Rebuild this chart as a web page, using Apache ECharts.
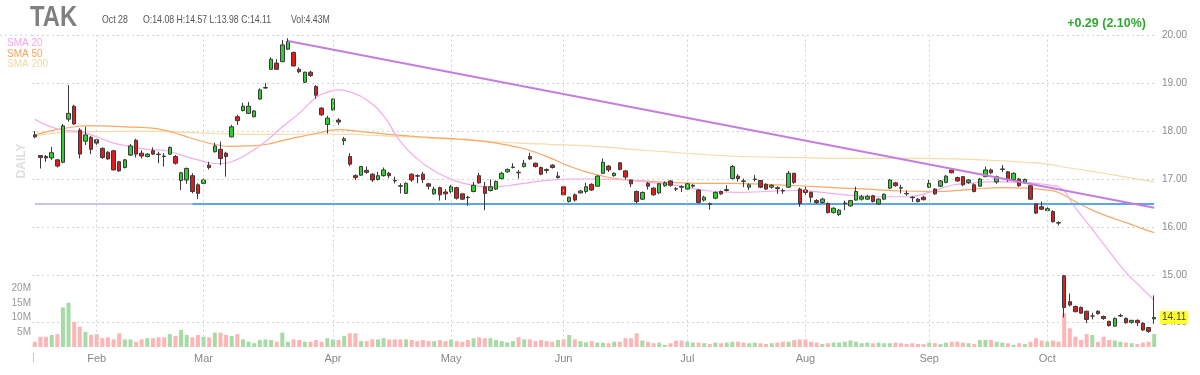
<!DOCTYPE html>
<html><head><meta charset="utf-8">
<script src="https://cdn.jsdelivr.net/npm/echarts/dist/echarts.min.js"></script>
<style>html,body{margin:0;padding:0;background:#fff}#c{width:1200px;height:375px}</style>
</head><body><div id="c"></div><script>
// ---- categories: trading days shown (2021) ----
const year = 2021;
const monthNames = ['Jan','Feb','Mar','Apr','May','Jun','Jul','Aug','Sep','Oct','Nov','Dec'];
const tradingDays = [
 [14,15,19,20,21,22,25,26,27,28,29],
 [1,2,3,4,5,8,9,10,11,12,16,17,18,19,22,23,24,25,26],
 [1,2,3,4,5,8,9,10,11,12,15,16,17,18,19,22,23,24,25,26,29,30,31],
 [1,5,6,7,8,9,12,13,14,15,16,19,20,21,22,23,26,27,28,29,30],
 [3,4,5,6,7,10,11,12,13,14,17,18,19,20,21,24,25,26,27,28],
 [1,2,3,4,7,8,9,10,11,14,15,16,17,18,21,22,23,24,25,28,29,30],
 [1,2,6,7,8,9,12,13,14,15,16,19,20,21,22,23,26,27,28,29,30],
 [2,3,4,5,6,9,10,11,12,13,16,17,18,19,20,23,24,25,26,27,30,31],
 [1,2,3,7,8,9,10,13,14,15,16,17,20,21,22,23,24,27,28,29,30],
 [1,4,5,6,7,8,11,12,13,14,15,18,19,20,21,22,25,26,27,28]
];

// ---- OHLC ----
const opens = [
17.92,17.49,17.47,17.44,17.40,17.35,18.25,18.52,18.02,17.79,
17.87,17.82,17.64,17.56,17.59,17.36,17.24,17.50,17.81,17.54,
17.47,17.59,17.52,17.48,17.52,17.47,16.97,16.98,17.07,16.88,
16.91,17.29,17.57,17.62,17.54,17.88,18.30,18.43,18.37,18.30,
18.67,18.90,19.29,19.42,19.45,19.71,19.64,19.29,19.02,19.23,
18.93,18.48,18.14,18.44,18.23,17.80,17.47,17.07,17.08,17.18,
17.10,16.99,17.07,17.12,16.97,16.86,16.70,17.10,17.07,17.10,
16.90,16.69,16.82,16.73,16.74,16.82,16.69,16.62,16.74,17.07,
16.84,16.76,16.79,17.01,17.15,17.24,17.14,17.26,17.47,17.33,
17.24,17.20,17.29,17.03,16.84,16.53,16.67,16.71,16.74,16.89,
16.85,17.12,17.27,17.07,17.34,17.17,16.98,16.74,16.58,16.91,
16.81,16.71,16.86,16.96,16.80,16.84,16.79,16.85,16.77,16.56,
16.48,16.60,16.74,16.76,17.01,17.06,16.96,16.83,16.99,16.97,
16.89,16.83,16.82,16.76,16.83,17.12,16.79,16.77,16.72,16.55,
16.51,16.49,16.30,16.26,16.49,16.44,16.56,16.58,16.58,16.65,
16.48,16.58,16.81,16.92,16.82,16.70,16.62,16.58,16.62,16.83,
16.79,16.85,16.93,17.19,17.03,17.05,16.93,16.88,16.85,17.05,
17.19,16.94,17.20,17.15,16.99,17.00,16.92,16.86,16.48,16.42,
16.34,16.32,16.09,14.98,14.44,14.34,14.32,14.24,14.14,14.24,
14.13,14.03,13.93,14.14,14.09,14.01,14.05,13.99,13.90,14.08
];
const closes = [
17.88,17.45,17.44,17.55,17.27,18.11,18.37,18.15,17.52,17.92,
17.62,17.75,17.45,17.42,17.19,17.17,17.40,17.69,17.52,17.48,
17.52,17.52,17.51,17.47,17.66,17.33,17.13,17.22,16.74,16.70,
16.98,17.24,17.69,17.43,17.47,18.09,18.22,18.52,18.52,18.42,
18.86,18.91,19.50,19.29,19.80,19.87,19.36,19.24,19.23,19.16,
18.75,18.34,18.27,18.67,18.19,17.84,17.31,17.03,17.26,17.14,
16.98,17.07,17.19,17.07,16.96,16.85,16.91,16.98,17.06,16.99,
16.85,16.79,16.67,16.69,16.84,16.60,16.58,16.61,16.87,16.92,
16.70,16.84,16.95,17.12,17.20,17.25,17.13,17.33,17.42,17.26,
17.10,17.18,17.24,17.06,16.67,16.62,16.56,16.75,16.84,16.77,
17.06,17.35,17.19,17.12,17.20,17.04,16.90,16.53,16.72,16.85,
16.67,16.90,16.92,16.87,16.79,16.83,16.90,16.87,16.51,16.62,
16.47,16.72,16.69,16.78,17.26,17.01,16.95,16.88,17.00,16.83,
16.79,16.87,16.80,16.75,17.12,16.93,16.49,16.72,16.62,16.51,
16.58,16.30,16.39,16.35,16.50,16.55,16.74,16.63,16.64,16.53,
16.58,16.68,16.98,16.86,16.81,16.69,16.61,16.53,16.57,16.91,
16.69,16.96,17.06,17.13,16.96,16.88,16.98,16.74,17.00,17.19,
17.13,17.05,17.21,16.98,17.12,16.86,16.99,16.58,16.29,16.37,
16.38,16.11,16.08,14.32,14.37,14.23,14.20,14.07,14.14,14.19,
14.09,13.94,14.09,14.15,14.00,14.05,14.00,13.85,13.82,14.11
];
const lows = [
17.85,17.22,17.36,17.40,17.24,17.33,18.20,18.13,17.43,17.71,
17.52,17.68,17.42,17.40,17.18,17.15,17.22,17.48,17.45,17.43,
17.45,17.50,17.33,17.26,17.50,17.30,16.77,16.90,16.70,16.58,
16.90,17.20,17.55,17.29,17.05,17.87,18.13,18.41,18.36,18.29,
18.65,18.88,19.28,19.28,19.44,19.69,19.35,19.21,19.00,19.13,
18.68,18.32,17.95,18.43,18.13,17.71,17.27,16.98,17.07,17.11,
16.94,16.97,17.05,17.02,16.91,16.70,16.69,16.94,16.91,16.92,
16.78,16.67,16.55,16.56,16.70,16.57,16.56,16.44,16.72,16.90,
16.35,16.74,16.77,16.99,17.13,17.22,17.01,17.24,17.40,17.24,
17.08,17.12,17.22,17.01,16.64,16.51,16.53,16.70,16.70,16.75,
16.84,17.11,17.15,17.05,17.18,16.99,16.83,16.49,16.56,16.78,
16.65,16.69,16.84,16.84,16.75,16.73,16.77,16.82,16.49,16.53,
16.36,16.58,16.67,16.74,16.99,16.95,16.83,16.77,16.95,16.81,
16.77,16.80,16.69,16.69,16.81,16.90,16.42,16.66,16.51,16.48,
16.49,16.28,16.28,16.23,16.35,16.42,16.55,16.55,16.56,16.51,
16.46,16.56,16.79,16.84,16.70,16.65,16.52,16.51,16.55,16.81,
16.67,16.83,16.91,17.12,16.94,16.85,16.90,16.72,16.84,17.04,
17.10,16.90,17.14,16.94,16.97,16.84,16.90,16.56,16.27,16.35,
16.32,16.09,16.03,14.11,14.34,14.22,14.19,13.99,14.07,14.17,
14.06,13.92,13.92,14.12,13.98,13.98,13.93,13.83,13.79,13.98
];
const highs = [
18.00,17.50,17.50,17.67,17.42,18.15,18.96,18.55,18.06,18.09,
17.90,17.84,17.66,17.58,17.61,17.38,17.42,17.73,17.84,17.60,
17.54,17.66,17.57,17.54,17.68,17.50,17.15,17.24,17.12,16.91,
17.01,17.36,17.76,17.78,17.57,18.13,18.34,18.59,18.61,18.44,
18.89,19.00,19.54,19.50,19.90,19.94,19.66,19.33,19.24,19.26,
18.96,18.50,18.32,18.68,18.27,17.88,17.54,17.10,17.27,17.26,
17.12,17.15,17.24,17.15,17.05,16.91,16.93,17.12,17.10,17.15,
16.92,16.84,16.84,16.79,16.88,16.84,16.70,16.65,16.94,17.13,
16.94,16.99,16.97,17.15,17.22,17.33,17.19,17.40,17.55,17.34,
17.26,17.22,17.31,17.15,16.85,16.63,16.70,16.77,16.92,16.91,
17.08,17.43,17.29,17.14,17.35,17.19,16.99,16.76,16.74,16.94,
16.83,16.92,16.95,16.98,16.83,16.87,16.92,16.90,16.79,16.65,
16.51,16.74,16.76,16.87,17.29,17.10,17.01,16.91,17.08,16.98,
16.91,16.89,16.85,16.80,17.17,17.13,16.82,16.88,16.74,16.58,
16.61,16.51,16.41,16.37,16.55,16.56,16.84,16.67,16.67,16.67,
16.60,16.70,17.00,16.94,16.88,16.76,16.64,16.60,16.65,16.98,
16.81,16.98,17.08,17.22,17.05,17.06,17.00,16.91,17.02,17.26,
17.22,17.07,17.29,17.17,17.14,17.02,17.01,16.88,16.49,16.53,
16.41,16.35,16.12,15.00,14.61,14.36,14.34,14.25,14.21,14.26,
14.15,14.04,14.11,14.19,14.11,14.06,14.07,14.01,13.91,14.57
];
// ---- volume (millions) ----
const volumes = [
1.8,3.5,3.5,4.1,4.4,13.5,15.1,8.6,6.9,5.2,
4.1,4.4,3.0,3.3,2.6,4.7,2.6,2.6,1.8,2.6,
3.0,3.0,3.3,3.3,4.4,3.8,5.8,4.1,3.3,4.1,
3.5,3.3,4.9,4.9,4.1,3.8,4.4,2.6,1.8,1.3,
2.4,2.6,2.4,1.8,4.9,1.8,2.6,2.4,1.8,1.8,
2.4,1.8,3.0,2.6,2.4,3.8,4.7,4.7,2.0,2.0,
2.6,2.6,3.0,2.6,2.6,2.6,2.6,2.4,2.0,2.4,
2.0,2.0,2.4,2.0,2.6,2.0,1.8,2.4,3.0,3.3,
3.0,3.0,2.4,2.0,1.6,2.0,3.3,2.6,2.6,2.0,
2.4,2.0,1.8,2.4,2.6,4.1,2.6,2.0,1.6,2.0,
1.5,1.5,1.3,1.8,1.8,3.0,3.0,4.7,2.2,1.8,
1.3,1.5,0.7,1.3,2.2,2.2,1.8,1.5,1.5,1.3,
1.0,1.5,1.3,1.5,1.8,1.8,1.5,1.3,1.5,1.3,
1.0,1.3,1.5,1.8,1.8,2.4,2.6,2.6,1.8,1.5,
1.0,1.3,1.5,1.5,1.8,2.2,1.8,1.3,1.5,1.3,
1.5,1.3,1.3,1.5,1.3,1.0,1.3,1.0,1.0,1.5,
1.3,1.0,1.5,1.8,1.8,1.5,1.3,1.0,2.4,2.4,
2.4,1.8,1.5,1.3,0.7,1.3,1.0,1.8,3.0,2.2,
1.8,2.2,1.8,11.5,6.4,3.5,2.4,4.4,4.1,1.8,
3.5,2.4,2.2,1.8,1.5,1.3,1.0,1.5,1.8,4.43
];
// ---- moving averages, read at sample points [candle index, value] ----
const sma20 = [[0,18.25],[2,18.13],[5,18.02],[8,17.99],[11,17.88],[14,17.75],[17,17.68],[20,17.62],[23,17.60],[26,17.50],[29,17.40],[31,17.34],[33,17.32],[35,17.36],[38,17.54],[41,17.78],[44,18.09],[47,18.37],[50,18.70],[52,18.81],[54,18.86],[56,18.82],[59,18.65],[62,18.32],[65,17.78],[68,17.42],[71,17.17],[75,16.95],[78,16.87],[81,16.83],[84,16.86],[87,16.91],[91,16.97],[95,17.00],[100,17.00],[105,16.98],[110,16.92],[115,16.85],[120,16.75],[125,16.72],[130,16.74],[135,16.76],[140,16.72],[145,16.66],[150,16.63],[155,16.63],[159,16.72],[163,16.87],[166,16.91],[169,16.94],[172,16.94],[175,16.93],[178,16.91],[181,16.86],[182,16.84],[185,16.40],[188,15.95],[191,15.49],[194,15.05],[197,14.70],[199,14.47]];
const sma50 = [[0,17.92],[3,18.01],[6,18.07],[9,18.11],[12,18.11],[16,18.09],[20,18.07],[23,18.02],[26,17.92],[29,17.81],[32,17.72],[35,17.68],[38,17.69],[41,17.72],[44,17.80],[47,17.88],[50,17.95],[54,18.03],[58,17.99],[64,17.92],[70,17.87],[76,17.83],[82,17.75],[86,17.66],[89,17.56],[92,17.42],[95,17.27],[98,17.15],[101,17.06],[104,17.00],[108,16.96],[113,16.93],[118,16.91],[124,16.91],[130,16.89],[136,16.86],[142,16.82],[148,16.79],[154,16.75],[160,16.74],[166,16.78],[172,16.82],[176,16.81],[180,16.77],[182,16.72],[185,16.53],[188,16.35],[191,16.21],[194,16.09],[197,15.96],[199,15.88]];
const sma200 = [[0,17.90],[6,17.98],[12,17.99],[18,18.00],[24,17.99],[32,17.95],[41,17.93],[50,17.94],[56,17.93],[62,17.90],[68,17.87],[74,17.83],[80,17.79],[86,17.75],[92,17.72],[100,17.68],[106,17.62],[112,17.57],[118,17.52],[124,17.48],[130,17.46],[138,17.44],[150,17.43],[158,17.43],[164,17.42],[170,17.39],[176,17.35],[180,17.31],[184,17.23],[190,17.12],[195,17.02],[199,16.94]];
// ---- drawn trend / support lines [candle index, price] ----
const trendLine = [[45,19.88],[199,16.40]];
const supportOld = [[0,16.48],[28,16.48]];
const supportNew = [[28,16.48],[199,16.48]];
const priceTicks = [14,15,16,17,18,19,20];
const volumeTicks = [5,10,15,20];

// ---- build categories ----
const dates = [];
const monthStarts = [];
tradingDays.forEach((days, m) => {
  days.forEach((d, k) => {
    if (k === 0 && m > 0) monthStarts.push(dates.length);
    dates.push(year + '-' + String(m + 1).padStart(2, '0') + '-' + String(d).padStart(2, '0'));
  });
});
const monthSet = new Set(monthStarts);
const ohlc = opens.map((o, i) => [o, closes[i], lows[i], highs[i]]);
const last = closes.length - 1;

const FONT = '"Liberation Sans", Arial, Helvetica, sans-serif';
const UP = '#2ecf2e', DOWN = '#e01b1b', EDGE = '#3a3a3a';
const VUP = '#a6dba6', VDOWN = '#ffb5b5';
const GRIDC = '#d2d2d2';

const chart = echarts.init(document.getElementById('c'), null, {renderer: 'canvas'});
chart.setOption({
  animation: false,
  backgroundColor: '#fff',
  grid: [
    {left: 32, width: 1125, top: 35.3, height: 311.4},
    {left: 32, width: 1125, top: 288.4, height: 58.6}
  ],
  xAxis: [
    {gridIndex: 0, type: 'category', data: dates, boundaryGap: true,
     axisLine: {show: false}, axisTick: {show: false}, axisLabel: {show: false}, splitLine: {show: false}},
    {gridIndex: 1, type: 'category', data: dates, boundaryGap: true,
     axisLine: {show: false}, axisTick: {show: false}, splitLine: {show: false},
     axisLabel: {show: true, interval: (i) => monthSet.has(i), margin: 6, color: '#888', fontSize: 11, fontFamily: FONT,
       formatter: (v) => monthNames[parseInt(v.slice(5, 7), 10) - 1]}}
  ],
  yAxis: [
    {gridIndex: 0, type: 'value', position: 'right', min: 13.5, max: 20, interval: 0.5,
     axisLine: {show: false}, axisTick: {show: false},
     axisLabel: {margin: 5, color: '#8c8c8c', fontSize: 10, fontFamily: FONT,
       formatter: (v) => priceTicks.some(t => Math.abs(t - v) < 1e-6) ? v.toFixed(2) : ''},
     splitLine: {show: true, lineStyle: {color: ['rgba(0,0,0,0)', GRIDC], type: [2, 3], width: 1}}},
    {gridIndex: 1, type: 'value', position: 'left', min: 0, max: 20, interval: 5,
     axisLine: {show: false}, axisTick: {show: false}, splitLine: {show: false},
     axisLabel: {margin: 1, color: '#999', fontSize: 10, fontFamily: FONT,
       formatter: (v) => volumeTicks.includes(v) ? v + 'M' : ''}}
  ],
  series: [
    {type: 'bar', name: 'Volume', xAxisIndex: 1, yAxisIndex: 1, data: volumes, barWidth: 4, z: 1,
     itemStyle: {color: (p) => closes[p.dataIndex] >= opens[p.dataIndex] ? VUP : VDOWN}},
    {type: 'line', name: 'support-old', xAxisIndex: 0, yAxisIndex: 0, data: supportOld, symbol: 'none', z: 2,
     lineStyle: {color: '#c9c3f2', width: 2},
     markLine: {silent: true, symbol: ['none', 'none'], label: {show: false},
       lineStyle: {color: GRIDC, type: [2, 3], width: 1},
       data: monthStarts.map(i => ({xAxis: dates[i]}))}},
    {type: 'line', name: 'SMA 200', xAxisIndex: 0, yAxisIndex: 0, data: sma200, smooth: true, symbol: 'none', z: 2,
     lineStyle: {color: '#f5dcab', width: 1.2}},
    {type: 'line', name: 'SMA 50', xAxisIndex: 0, yAxisIndex: 0, data: sma50, smooth: true, symbol: 'none', z: 2,
     lineStyle: {color: '#f9a868', width: 1.2}},
    {type: 'line', name: 'SMA 20', xAxisIndex: 0, yAxisIndex: 0, data: sma20, smooth: true, symbol: 'none', z: 2,
     lineStyle: {color: '#f4acea', width: 1.2}},
    {type: 'line', name: 'support', xAxisIndex: 0, yAxisIndex: 0, data: supportNew, symbol: 'none', z: 3,
     lineStyle: {color: '#5aa6ea', width: 2}},
    {type: 'candlestick', name: 'TAK', xAxisIndex: 0, yAxisIndex: 0, data: ohlc, barWidth: 4, z: 4,
     itemStyle: {color: UP, color0: DOWN, borderColor: EDGE, borderColor0: EDGE, borderColorDoji: EDGE, borderWidth: 1}},
    {type: 'line', name: 'trend', xAxisIndex: 0, yAxisIndex: 0, data: trendLine, symbol: 'none', z: 5,
     lineStyle: {color: '#c57ee0', width: 2},
     markLine: {silent: true, symbol: ['none', 'none'], z: 10,
       lineStyle: {color: 'rgba(0,0,0,0)', width: 0},
       label: {show: true, position: 'end', distance: 3, formatter: closes[last].toFixed(2),
         backgroundColor: '#ffff2e', color: '#444', fontSize: 10, fontFamily: FONT, padding: [2, 2, 1, 2]},
       data: [{yAxis: closes[last]}]}}
  ],
  graphic: [
    {type: 'line', shape: {x1: 0, y1: 35.3, x2: 32, y2: 35.3}, style: {stroke: GRIDC, lineDash: [2, 3], lineWidth: 1}, silent: true},
    {type: 'line', shape: {x1: 33.5, y1: 353, x2: 33.5, y2: 362}, style: {stroke: '#c8c8c8', lineWidth: 1}, silent: true},
    {type: 'text', x: 30, y: 18, scaleX: 0.82, silent: true,
     style: {text: 'TAK', fill: '#808080', font: 'bold 29px ' + FONT, verticalAlign: 'middle'}},
    {type: 'text', x: 102, y: 19.5, scaleX: 0.76, silent: true,
     style: {text: 'Oct 28', fill: '#555', font: '11.5px ' + FONT, verticalAlign: 'middle'}},
    {type: 'text', x: 143, y: 19.5, scaleX: 0.76, silent: true,
     style: {text: 'O:' + opens[last].toFixed(2) + ' H:' + highs[last].toFixed(2) + ' L:' + lows[last].toFixed(2) + ' C:' + closes[last].toFixed(2), fill: '#555', font: '11.5px ' + FONT, verticalAlign: 'middle'}},
    {type: 'text', x: 291, y: 19.5, scaleX: 0.76, silent: true,
     style: {text: 'Vol:' + volumes[last].toFixed(2) + 'M', fill: '#555', font: '11.5px ' + FONT, verticalAlign: 'middle'}},
    {type: 'text', x: 1146, y: 24, silent: true,
     style: {text: '+0.29 (2.10%)', fill: '#2fa82f', font: 'bold 12.5px ' + FONT, align: 'right', verticalAlign: 'middle'}},
    {type: 'text', x: 7, y: 43, silent: true, style: {text: 'SMA 20', fill: '#f2a6e6', font: '10px ' + FONT, verticalAlign: 'middle'}},
    {type: 'text', x: 7, y: 54, silent: true, style: {text: 'SMA 50', fill: '#f8a460', font: '10px ' + FONT, verticalAlign: 'middle'}},
    {type: 'text', x: 7, y: 64.7, silent: true, style: {text: 'SMA 200', fill: '#f1d9a8', font: '10px ' + FONT, verticalAlign: 'middle'}},
    {type: 'text', x: 22, y: 161, rotation: Math.PI / 2, silent: true,
     style: {text: 'DAILY', fill: '#dedede', font: 'bold 12px ' + FONT, align: 'center', verticalAlign: 'middle'}}
  ]
});
</script></body></html>
